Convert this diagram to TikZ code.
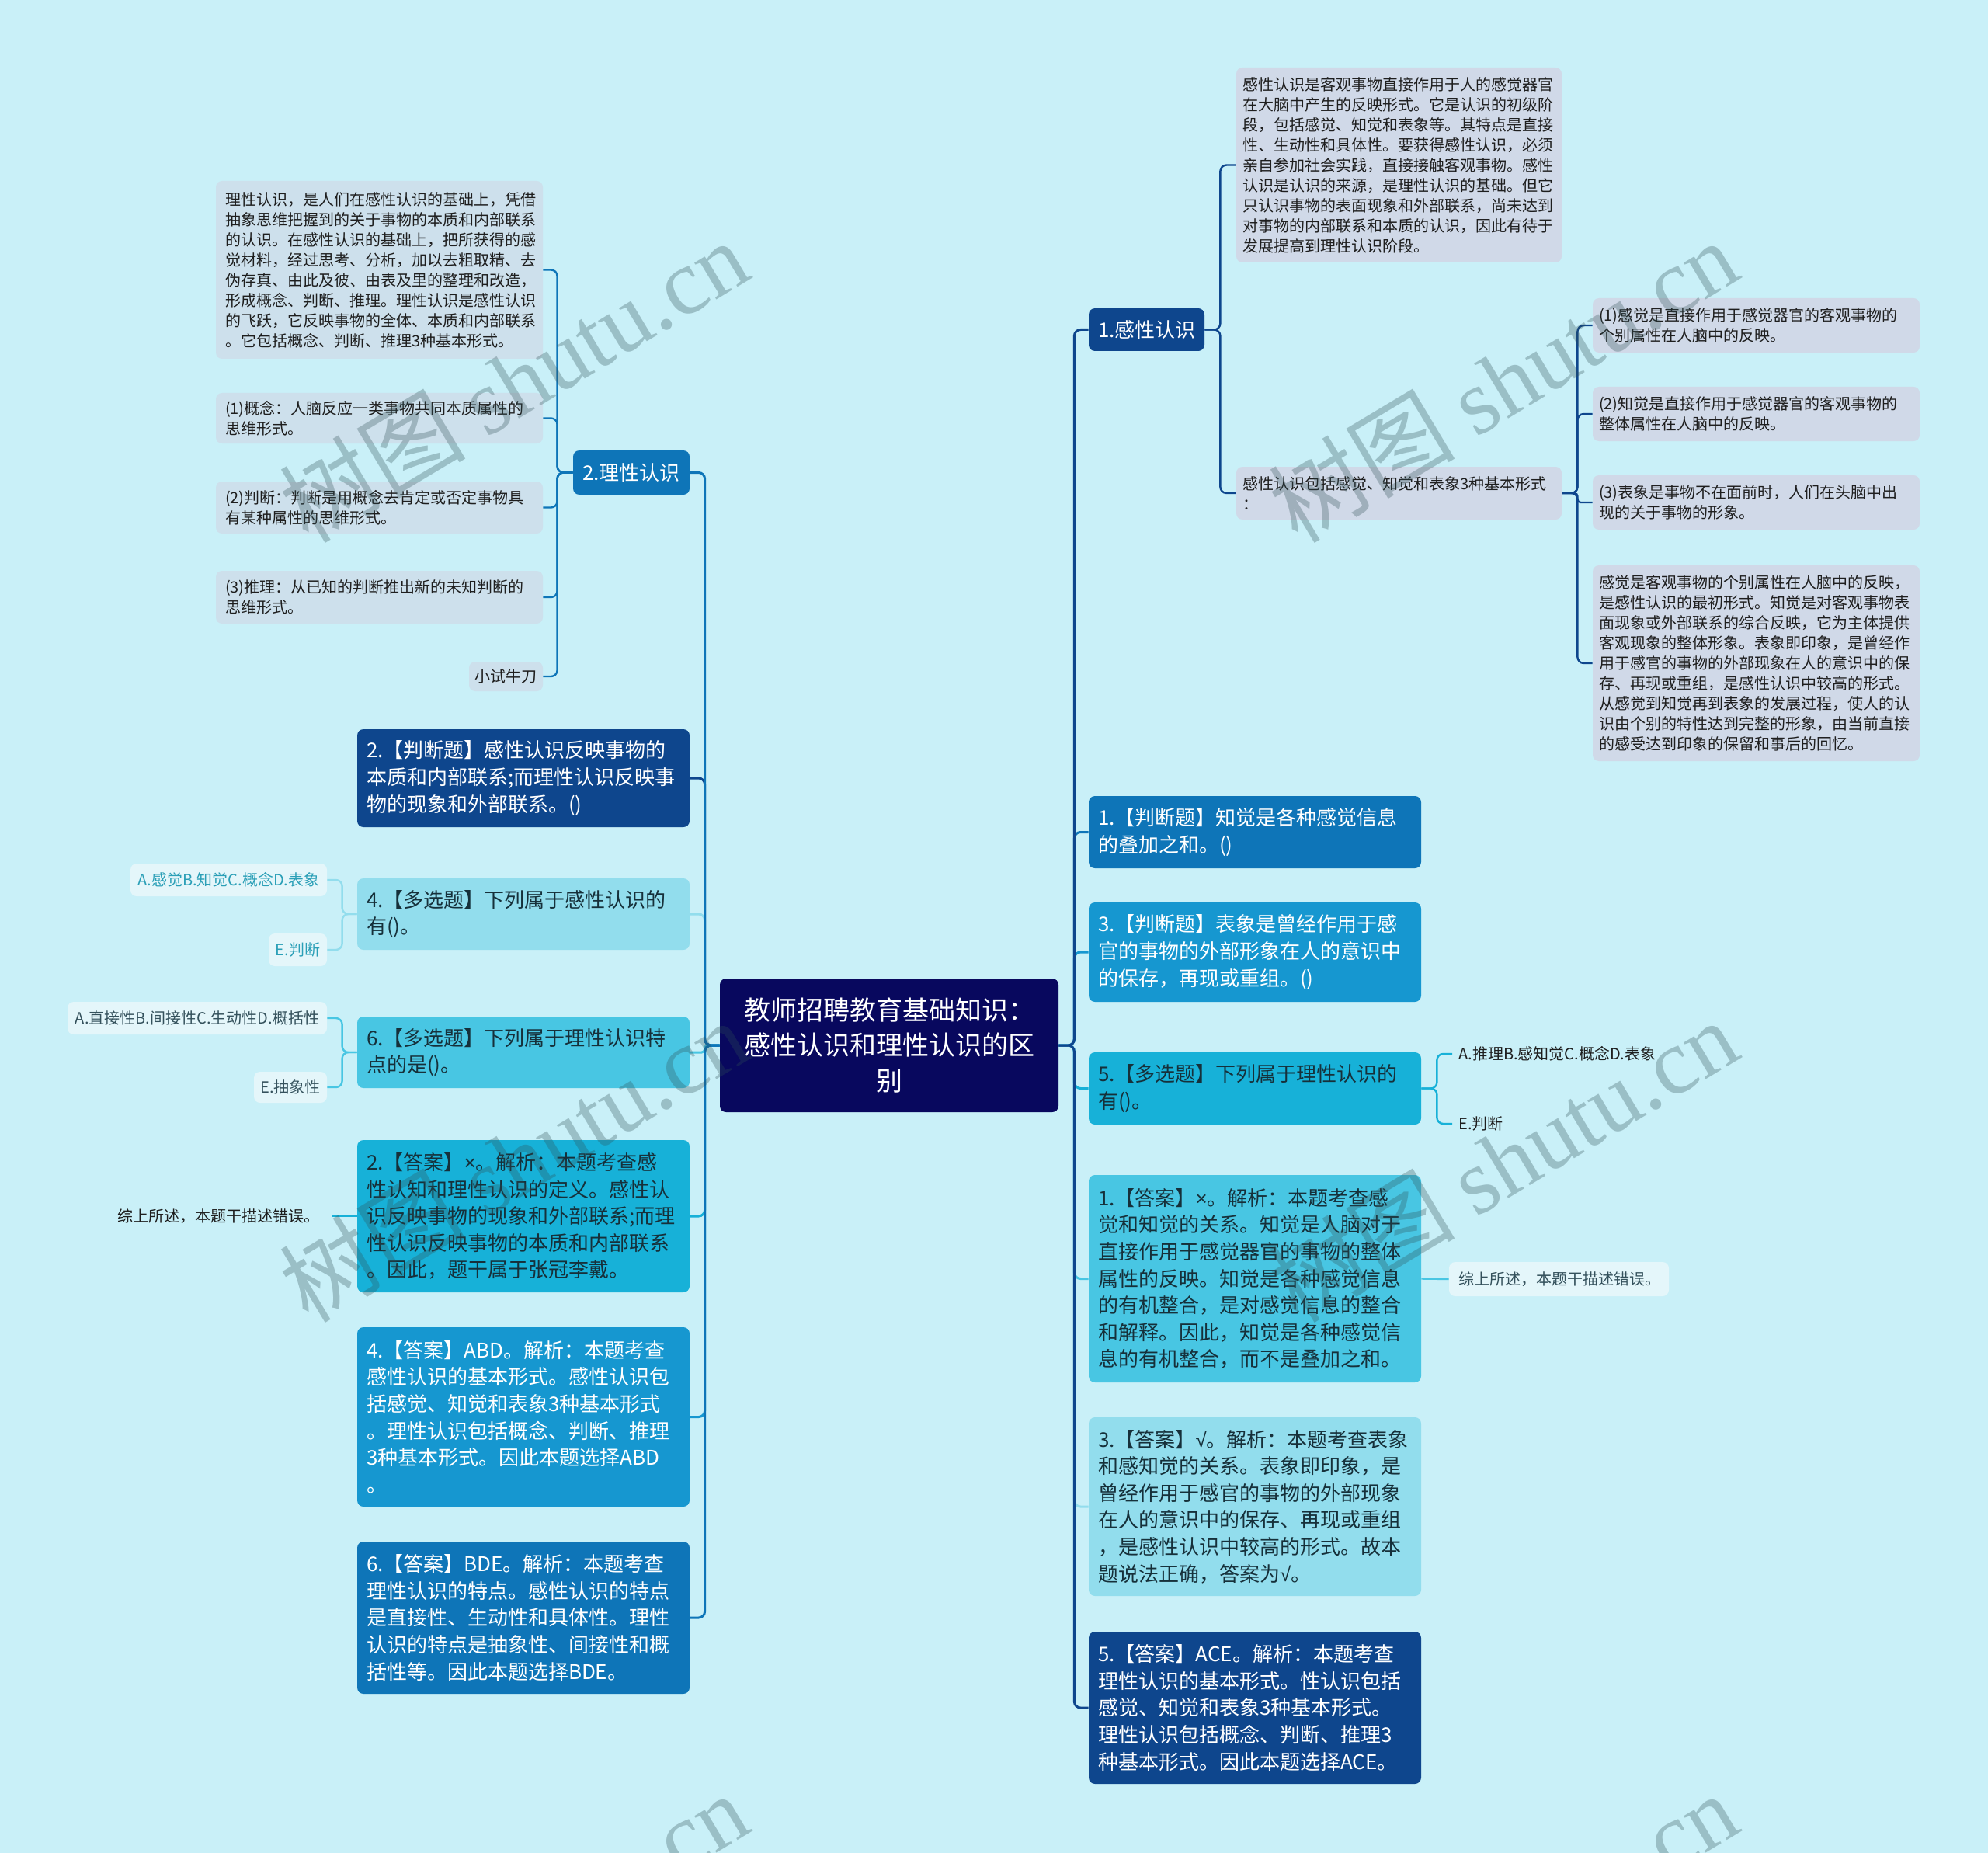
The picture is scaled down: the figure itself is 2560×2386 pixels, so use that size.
\documentclass[tikz,border=0pt]{standalone}
\usepackage{fontspec}
\setmainfont{Noto Sans CJK SC}
\newfontfamily\wmfont{Liberation Serif}
\newfontfamily\symfont{Liberation Sans}
\newcommand\ck{{\symfont √}}
\newcommand\xx{{\symfont ×}}
\usetikzlibrary{calc}
\definecolor{bg}{HTML}{C9F0F8}
\definecolor{navy}{HTML}{08085E}
\definecolor{dblue}{HTML}{0E468D}
\definecolor{mblue}{HTML}{0E75B8}
\definecolor{sblue}{HTML}{1697D0}
\definecolor{cyanA}{HTML}{17B1D8}
\definecolor{cyanB}{HTML}{48C6E3}
\definecolor{cyanC}{HTML}{92DDED}
\definecolor{leafR}{HTML}{D0D9E8}
\definecolor{leafL}{HTML}{CDE0EC}
\definecolor{leafW}{HTML}{E4F6FA}
\definecolor{txt}{HTML}{1E1E1E}
\definecolor{ctxt}{HTML}{16303A}
\definecolor{tealtxt}{HTML}{2A9FB7}
\definecolor{graytxt}{HTML}{34515C}
\definecolor{wmcol}{HTML}{2F4F55}
\tikzset{
  box/.style={rounded corners=4pt, inner xsep=0pt, inner ysep=1pt, align=left, draw=none},
  bigf/.style={font=\fontsize{13}{17.3}\selectfont},
  smallf/.style={font=\fontsize{10}{13}\selectfont},
  conn/.style={line width=1.5pt, rounded corners=4pt},
  leafconn/.style={line width=1.2pt, rounded corners=4pt},
  wmark/.style={text=wmcol, text opacity=0.3, rotate=31, inner sep=0pt, font=\fontsize{60}{60}\selectfont}
}
\newcommand\bx[8]{%
  \pgfmathsetmacro\bxw{(#4-#2)*0.5}%
  \pgfmathsetmacro\bxh{(#5-#3)*0.5}%
  \pgfmathsetmacro\bxt{(#4-#2)*0.5-2*#6}%
  \node[box,#7,minimum width=\bxw pt,minimum height=\bxh pt,text width=\bxt pt] (#1) at ({(#2+#4)/2},{(#3+#5)/2}) {#8};%
}
\begin{document}
\begin{tikzpicture}[x=0.5pt,y=-0.5pt]
\useasboundingbox (0,0) rectangle (2560,2386);
\clip (0,0) rectangle (2560,2386);
\fill[bg] (0,0) rectangle (2560,2386);

% central
\bx{C}{927}{1260}{1363}{1432}{8}{fill=navy,text=white,align=center,font=\fontsize{17}{22.9}\selectfont}{教师招聘教育基础知识：\\感性认识和理性认识的区\\别}

% right branch
\bx{K1}{1402}{397}{1551}{452}{6}{fill=dblue,text=white,bigf}{1.感性认识}
\bx{K1a}{1592}{87}{2011}{338}{4}{fill=leafR,text=txt,smallf}{感性认识是客观事物直接作用于人的感觉器官\\在大脑中产生的反映形式。它是认识的初级阶\\段，包括感觉、知觉和表象等。其特点是直接\\性、生动性和具体性。要获得感性认识，必须\\亲自参加社会实践，直接接触客观事物。感性\\认识是认识的来源，是理性认识的基础。但它\\只认识事物的表面现象和外部联系，尚未达到\\对事物的内部联系和本质的认识，因此有待于\\发展提高到理性认识阶段。}
\bx{K1b}{1592}{601}{2011}{669}{4}{fill=leafR,text=txt,smallf}{感性认识包括感觉、知觉和表象3种基本形式\\：}
\bx{K2a}{2051}{384}{2472}{454}{4}{fill=leafR,text=txt,smallf}{(1)感觉是直接作用于感觉器官的客观事物的\\个别属性在人脑中的反映。}
\bx{K2b}{2051}{498}{2472}{568}{4}{fill=leafR,text=txt,smallf}{(2)知觉是直接作用于感觉器官的客观事物的\\整体属性在人脑中的反映。}
\bx{K2c}{2051}{612}{2472}{682}{4}{fill=leafR,text=txt,smallf}{(3)表象是事物不在面前时，人们在头脑中出\\现的关于事物的形象。}
\bx{K2d}{2051}{728}{2472}{980}{4}{fill=leafR,text=txt,smallf}{感觉是客观事物的个别属性在人脑中的反映，\\是感性认识的最初形式。知觉是对客观事物表\\面现象或外部联系的综合反映，它为主体提供\\客观现象的整体形象。表象即印象，是曾经作\\用于感官的事物的外部现象在人的意识中的保\\存、再现或重组，是感性认识中较高的形式。\\从感觉到知觉再到表象的发展过程，使人的认\\识由个别的特性达到完整的形象，由当前直接\\的感受达到印象的保留和事后的回忆。}

\bx{R1}{1402}{1025}{1830}{1118}{6}{fill=mblue,text=white,bigf}{1.【判断题】知觉是各种感觉信息\\的叠加之和。()}
\bx{R3}{1402}{1162}{1830}{1290}{6}{fill=sblue,text=white,bigf}{3.【判断题】表象是曾经作用于感\\官的事物的外部形象在人的意识中\\的保存，再现或重组。()}
\bx{R5}{1402}{1355}{1830}{1448}{6}{fill=cyanA,text=ctxt,bigf}{5.【多选题】下列属于理性认识的\\有()。}
\bx{RA1}{1402}{1513}{1830}{1780}{6}{fill=cyanB,text=ctxt,bigf}{1.【答案】\xx。解析：本题考查感\\觉和知觉的关系。知觉是人脑对于\\直接作用于感觉器官的事物的整体\\属性的反映。知觉是各种感觉信息\\的有机整合，是对感觉信息的整合\\和解释。因此，知觉是各种感觉信\\息的有机整合，而不是叠加之和。}
\bx{RA3}{1402}{1825}{1830}{2055}{6}{fill=cyanC,text=ctxt,bigf}{3.【答案】\ck。解析：本题考查表象\\和感知觉的关系。表象即印象，是\\曾经作用于感官的事物的外部现象\\在人的意识中的保存、再现或重组\\，是感性认识中较高的形式。故本\\题说法正确，答案为\ck。}
\bx{RA5}{1402}{2101}{1830}{2297}{6}{fill=dblue,text=white,bigf}{5.【答案】ACE。解析：本题考查\\理性认识的基本形式。性认识包括\\感觉、知觉和表象3种基本形式。\\理性认识包括概念、判断、推理3\\种基本形式。因此本题选择ACE。}

\node[anchor=west,smallf,text=txt,inner xsep=4pt,inner ysep=2pt] (R5a) at (1870,1357) {A.推理B.感知觉C.概念D.表象};
\node[anchor=west,smallf,text=txt,inner xsep=4pt,inner ysep=2pt] (R5b) at (1870,1447) {E.判断};
\bx{RZ}{1866}{1625}{2149}{1669}{6}{fill=leafW,text=graytxt,smallf}{综上所述，本题干描述错误。}

% left branch
\bx{L0}{738}{580}{888}{637}{6}{fill=mblue,text=white,bigf}{2.理性认识}
\bx{La}{278}{233}{699}{462}{6}{fill=leafL,text=txt,smallf}{理性认识，是人们在感性认识的基础上，凭借\\抽象思维把握到的关于事物的本质和内部联系\\的认识。在感性认识的基础上，把所获得的感\\觉材料，经过思考、分析，加以去粗取精、去\\伪存真、由此及彼、由表及里的整理和改造，\\形成概念、判断、推理。理性认识是感性认识\\的飞跃，它反映事物的全体、本质和内部联系\\。它包括概念、判断、推理3种基本形式。}
\bx{Lb}{278}{506}{699}{571}{6}{fill=leafL,text=txt,smallf}{(1)概念：人脑反应一类事物共同本质属性的\\思维形式。}
\bx{Lc}{278}{620}{699}{687}{6}{fill=leafL,text=txt,smallf}{(2)判断：判断是用概念去肯定或否定事物具\\有某种属性的思维形式。}
\bx{Ld}{278}{735}{699}{803}{6}{fill=leafL,text=txt,smallf}{(3)推理：从已知的判断推出新的未知判断的\\思维形式。}
\bx{Le}{604}{852}{699}{890}{2}{fill=leafL,text=txt,smallf,align=center}{小试牛刀}

\bx{Q2}{460}{939}{888}{1065}{6}{fill=dblue,text=white,bigf}{2.【判断题】感性认识反映事物的\\本质和内部联系;而理性认识反映事\\物的现象和外部联系。()}
\bx{Q4}{460}{1131}{888}{1223}{6}{fill=cyanC,text=ctxt,bigf}{4.【多选题】下列属于感性认识的\\有()。}
\bx{Q4a}{168}{1112}{421}{1154}{2}{fill=leafW,text=tealtxt,smallf,align=center}{A.感觉B.知觉C.概念D.表象}
\bx{Q4b}{346}{1202}{421}{1244}{2}{fill=leafW,text=tealtxt,smallf,align=center}{E.判断}
\bx{Q6}{460}{1309}{888}{1401}{6}{fill=cyanB,text=ctxt,bigf}{6.【多选题】下列属于理性认识特\\点的是()。}
\bx{Q6a}{87}{1290}{421}{1332}{2}{fill=leafW,text=graytxt,smallf,align=center}{A.直接性B.间接性C.生动性D.概括性}
\bx{Q6b}{327}{1380}{421}{1420}{2}{fill=leafW,text=graytxt,smallf,align=center}{E.抽象性}
\bx{A2}{460}{1468}{888}{1664}{6}{fill=cyanA,text=ctxt,bigf}{2.【答案】\xx。解析：本题考查感\\性认知和理性认识的定义。感性认\\识反映事物的现象和外部联系;而理\\性认识反映事物的本质和内部联系\\。因此，题干属于张冠李戴。}
\node[anchor=east,smallf,text=txt,inner xsep=8pt,inner ysep=2pt] (LZ) at (428,1566) {综上所述，本题干描述错误。};
\bx{A4}{460}{1709}{888}{1940}{6}{fill=sblue,text=white,bigf}{4.【答案】ABD。解析：本题考查\\感性认识的基本形式。感性认识包\\括感觉、知觉和表象3种基本形式\\。理性认识包括概念、判断、推理\\3种基本形式。因此本题选择ABD\\。}
\bx{A6}{460}{1985}{888}{2181}{6}{fill=mblue,text=white,bigf}{6.【答案】BDE。解析：本题考查\\理性认识的特点。感性认识的特点\\是直接性、生动性和具体性。理性\\认识的特点是抽象性、间接性和概\\括性等。因此本题选择BDE。}

% connectors right (nearest first, farthest last)
\draw[conn,cyanA] (C.east) -- ++(20,0) |- (R5.west);
\draw[conn,sblue] (C.east) -- ++(20,0) |- (R3.west);
\draw[conn,mblue] (C.east) -- ++(20,0) |- (R1.west);
\draw[conn,cyanB] (C.east) -- ++(20,0) |- (RA1.west);
\draw[conn,cyanC] (C.east) -- ++(20,0) |- (RA3.west);
\draw[conn,dblue] (C.east) -- ++(20,0) |- (RA5.west);
\draw[conn,dblue] (C.east) -- ++(20,0) |- (K1.west);
% connectors left
\draw[conn,cyanB,rounded corners=2pt] (C.west) -- ++(-19,0) |- (Q6.east);
\draw[conn,cyanC] (C.west) -- ++(-19,0) |- (Q4.east);
\draw[conn,cyanA] (C.west) -- ++(-19,0) |- (A2.east);
\draw[conn,dblue] (C.west) -- ++(-19,0) |- (Q2.east);
\draw[conn,sblue] (C.west) -- ++(-19,0) |- (A4.east);
\draw[conn,mblue] (C.west) -- ++(-19,0) |- (A6.east);
\draw[conn,mblue] (C.west) -- ++(-19,0) |- (L0.east);
% sub connectors
\draw[leafconn,dblue] (K1.east) -- ++(20,0) |- (K1a.west);
\draw[leafconn,dblue] (K1.east) -- ++(20,0) |- (K1b.west);
\draw[leafconn,dblue] (K1b.east) -- ++(20,0) |- (K2a.west);
\draw[leafconn,dblue] (K1b.east) -- ++(20,0) |- (K2b.west);
\draw[leafconn,dblue,rounded corners=2pt] (K1b.east) -- ++(20,0) |- (K2c.west);
\draw[leafconn,dblue] (K1b.east) -- ++(20,0) |- (K2d.west);
\draw[leafconn,cyanA] (R5.east) -- ++(20,0) |- (R5a.west);
\draw[leafconn,cyanA] (R5.east) -- ++(20,0) |- (R5b.west);
\draw[leafconn,cyanB] (RA1.east) -- (RZ.west);
\draw[leafconn,mblue] (L0.west) -- ++(-20,0) |- (La.east);
\draw[leafconn,mblue] (L0.west) -- ++(-20,0) |- (Lb.east);
\draw[leafconn,mblue] (L0.west) -- ++(-20,0) |- (Lc.east);
\draw[leafconn,mblue] (L0.west) -- ++(-20,0) |- (Ld.east);
\draw[leafconn,mblue] (L0.west) -- ++(-20,0) |- (Le.east);
\draw[leafconn,cyanC] (Q4.west) -- ++(-19,0) |- (Q4a.east);
\draw[leafconn,cyanC] (Q4.west) -- ++(-19,0) |- (Q4b.east);
\draw[leafconn,cyanB] (Q6.west) -- ++(-19,0) |- (Q6a.east);
\draw[leafconn,cyanB] (Q6.west) -- ++(-19,0) |- (Q6b.east);
\draw[leafconn,cyanA] (A2.west) -- (LZ.east);

% watermarks
\foreach \wx/\wy [count=\wi] in {661/490,1935/490,661/1494,1935/1494,661/2490,1935/2490}{
  \node[wmark] (wm\wi) at (\wx,\wy) {树图 {\wmfont shutu.cn}};
}
\end{tikzpicture}
\end{document}
